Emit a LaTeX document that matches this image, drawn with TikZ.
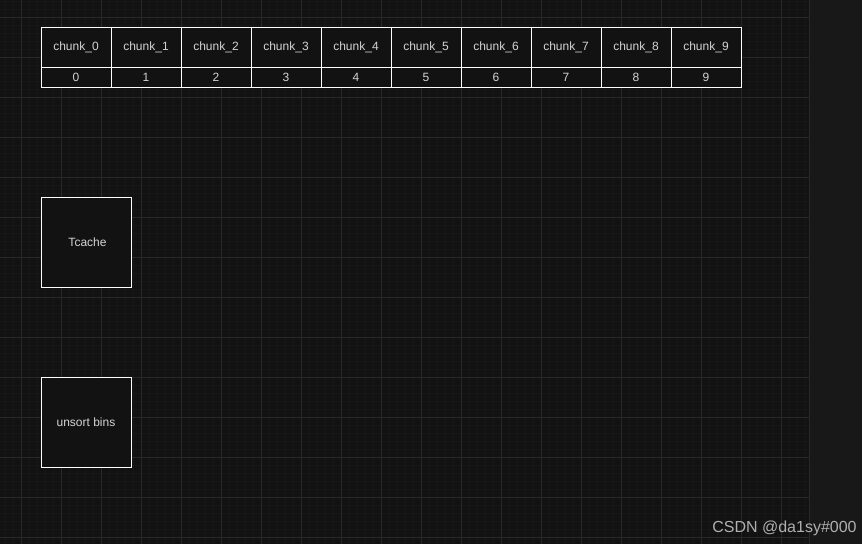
\documentclass[tikz,border=0pt]{standalone}
\usepackage{fontspec}
\setmainfont{Liberation Sans}
\definecolor{bgc}{HTML}{121212}
\definecolor{panelc}{HTML}{181818}
\definecolor{majorc}{HTML}{282828}
\definecolor{minorc}{HTML}{171717}
\definecolor{txtc}{HTML}{D4D4D4}
\definecolor{wmc}{HTML}{B0B0B0}
\begin{document}
\begin{tikzpicture}[x=1pt,y=-1pt,
  cellbox/.style={draw=white,line width=1pt,fill=bgc,text=txtc,inner sep=0pt,
    minimum width=70pt,minimum height=40pt,font=\fontsize{12}{14}\selectfont},
  idxbox/.style={cellbox,minimum height=20pt},
  bigbox/.style={cellbox,minimum width=90pt,minimum height=90pt}]
\useasboundingbox (0,0) rectangle (862,544);
\fill[bgc] (0,0) rectangle (809,544);
\fill[panelc] (809,0) rectangle (862,544);
% minor grid
\foreach \x in {5,13,...,805} \draw[minorc,line width=0.6pt] (\x,0) -- (\x,544);
\foreach \y in {1,9,...,544} \draw[minorc,line width=0.6pt] (0,\y) -- (809,\y);
% major grid
\foreach \x in {21,61,...,801} \draw[majorc,line width=1pt] (\x,0) -- (\x,544);
\foreach \y in {17,57,...,544} \draw[majorc,line width=1pt] (0,\y) -- (809,\y);
\draw[majorc,line width=1pt] (809,0) -- (809,544);
% table
\foreach \i in {0,...,9} {
  \node[cellbox] (c\i) at (76+70*\i,47.5) {chunk\_\i};
  \node[idxbox] (n\i) at (76+70*\i,77.5) {\i};
}
\node[bigbox] (tcache) at (86,242) {\hspace*{3pt}Tcache};
\node[bigbox] (unsort) at (86,422) {unsort bins};
\node[text=wmc,font=\fontsize{16}{18}\selectfont,inner sep=0pt] (wm) at (784.5,528) {CSDN @da1sy\#000};
\end{tikzpicture}
\end{document}
